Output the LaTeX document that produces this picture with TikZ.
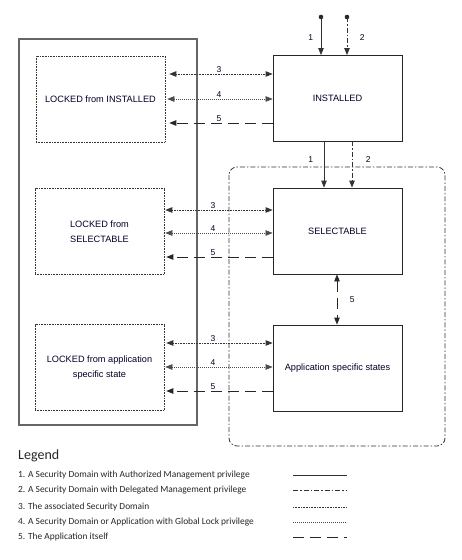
\documentclass[tikz,border=0pt]{standalone}
\usepackage{fontspec}
\setmainfont{Liberation Sans}
\newfontfamily\legendfont{Carlito}
\usetikzlibrary{arrows.meta,calc}
\tikzset{
  statebox/.style={draw=black!85, line width=0.8pt, minimum width=129pt, minimum height=86pt,
    font=\fontsize{9.2}{14.5}\selectfont, align=center, inner sep=2pt, text=black!85!blue},
  lockbox/.style={statebox, draw=black!80, line width=0.6pt, dash pattern=on 0.8pt off 0.8pt},
  arrowtip/.style={-{Triangle[length=7pt,width=5.5pt]}},
  bothtips/.style={{Triangle[length=7pt,width=5.5pt]}-{Triangle[length=7pt,width=5.5pt]}},
  amline/.style={black!80, line width=0.8pt},
  dmline/.style={black!80, line width=0.8pt, dash pattern=on 5pt off 2pt on 1.5pt off 2pt},
  sdline/.style={black!80, line width=0.8pt, dash pattern=on 0.8pt off 0.8pt},
  glline/.style={black!70, line width=0.6pt, dash pattern=on 0.6pt off 1.4pt},
  appline/.style={black!85, line width=0.8pt, dash pattern=on 11pt off 6pt},
  numlabel/.style={font=\fontsize{8.5}{9}\selectfont, text=black!85!blue, inner sep=1.5pt},
  legendtext/.style={font=\legendfont\fontsize{9.4}{11}\selectfont, anchor=west, inner sep=0pt, text=black!85}
}
\begin{document}
\begin{tikzpicture}[x=1pt,y=-1pt]
  \useasboundingbox (0,0) rectangle (461,560);
  %%%%% frames %%%%%
  \draw[black!60, line width=1.1pt] (19,39) rectangle (197,425);
  \draw[black!60, dmline, line width=0.8pt, rounded corners=8pt] (229,167) rectangle (445,446);

  %%%%% states %%%%%
  \node[statebox] (inst) at (337.5,98.5) {INSTALLED};
  \node[statebox] (sel) at (337.5,231) {SELECTABLE};
  \node[statebox] (app) at (337.5,368) {Application specific states};
  \node[lockbox] (lockinst) at (100.5,99) {LOCKED from INSTALLED};
  \node[lockbox] (locksel) at (99.5,231.5) {LOCKED from\\SELECTABLE};
  \node[lockbox] (lockapp) at (99.5,367.5) {LOCKED from application\\specific state};

  %%%%% install %%%%%
  \coordinate (am0) at (321,17);
  \coordinate (dm0) at (347,17);
  \fill[black!85] (am0) circle (2.3);
  \fill[black!85] (dm0) circle (2.3);
  \draw[amline,arrowtip] (am0) -- (am0 |- inst.north) node[numlabel,pos=0.55,left=6pt] {1};
  \draw[dmline,arrowtip] (dm0) -- (dm0 |- inst.north) node[numlabel,pos=0.55,right=11pt] {2};

  \coordinate (am1) at (324,141);
  \coordinate (dm1) at (352,141);
  \draw[amline,arrowtip] (am1) -- (am1 |- sel.north) node[numlabel,pos=0.4,left=9pt] {1};
  \draw[dmline,arrowtip] (dm1) -- (dm1 |- sel.north) node[numlabel,pos=0.4,right=12pt] {2};

  \coordinate (ap1) at (337,274);
  \draw[appline,bothtips] (sel.south -| ap1) -- (app.north -| ap1) node[numlabel,midway,right=11pt] {5};

  %%%%% locking %%%%%
  \draw[sdline,bothtips,shorten <=4pt] (lockinst.east |- 0,74) -- (inst.west |- 0,74) node[numlabel,midway,above] {3};
  \draw[glline,bothtips,shorten <=2pt] (lockinst.east |- 0,99) -- (inst.west |- 0,99) node[numlabel,midway,above] {4};
  \draw[appline,arrowtip,shorten >=4pt] (inst.west |- 0,123) -- (lockinst.east |- 0,123) node[numlabel,midway,above] {5};

  \draw[sdline,bothtips,shorten <=1pt] (locksel.east |- 0,210) -- (sel.west |- 0,210) node[numlabel,pos=0.45,above] {3};
  \draw[glline,bothtips,shorten <=1pt] (locksel.east |- 0,233) -- (sel.west |- 0,233) node[numlabel,pos=0.45,above] {4};
  \draw[appline,arrowtip,shorten >=2pt] (sel.west |- 0,257) -- (locksel.east |- 0,257) node[numlabel,pos=0.55,above] {5};

  \draw[sdline,bothtips,shorten <=2pt] (lockapp.east |- 0,343) -- (app.west |- 0,343) node[numlabel,pos=0.45,above] {3};
  \draw[glline,bothtips,shorten <=1pt] (lockapp.east |- 0,367) -- (app.west |- 0,367) node[numlabel,pos=0.45,above] {4};
  \draw[appline,arrowtip,shorten >=2pt] (app.west |- 0,391) -- (lockapp.east |- 0,391) node[numlabel,pos=0.55,above] {5};

  %%%%% legend %%%%%
  \node[legendtext, font=\legendfont\fontsize{14}{16}\selectfont] (legend) at (18,456) {Legend};
  \foreach \i/\txt/\sty/\yy in {
      1/{A Security Domain with Authorized Management privilege}/amline/475,
      2/{A Security Domain with Delegated Management privilege}/dmline/490,
      3/{The associated Security Domain}/sdline/507,
      4/{A Security Domain or Application with Global Lock privilege}/glline/522,
      5/{The Application itself}/appline/537} {
    \node[legendtext] (item\i) at (18,\yy) {\i. \txt};
    \draw[\sty] (293,\yy) -- (347,\yy);
  }
\end{tikzpicture}
\end{document}
